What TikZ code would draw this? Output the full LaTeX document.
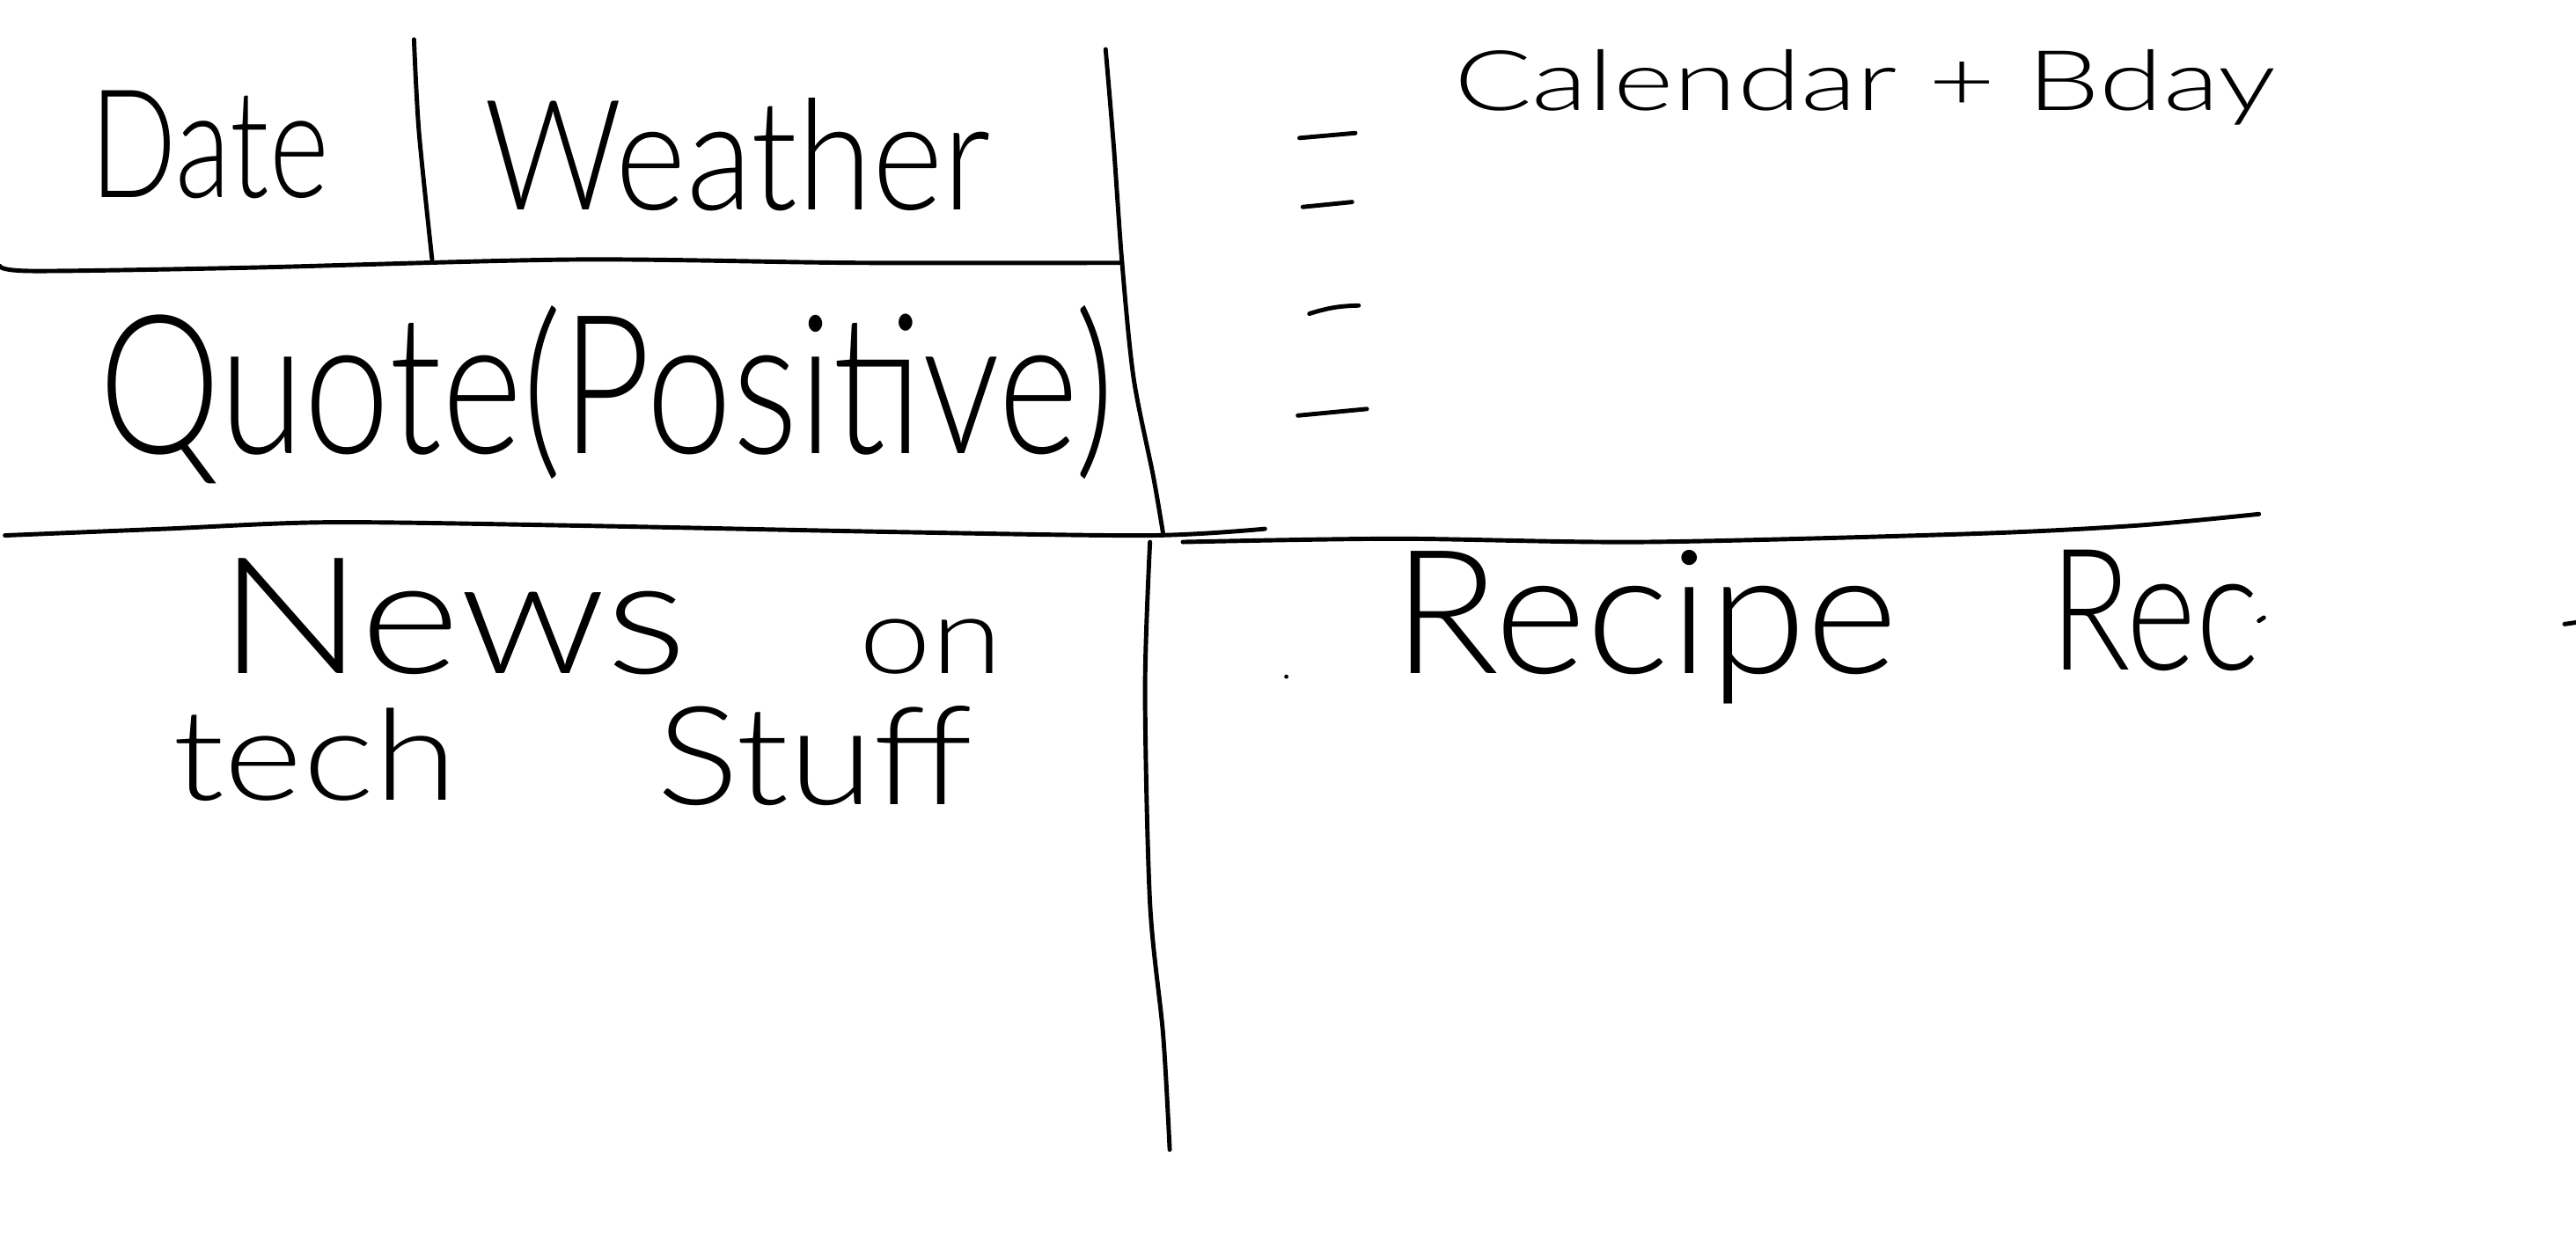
\documentclass[tikz,border=0pt]{standalone}
\usepackage{fontspec}
\setmainfont{Lato Light}
\usepackage{graphicx}
\newcommand{\skt}[3]{\resizebox{#1mm}{#2mm}{#3}}
\begin{document}
\begin{tikzpicture}[x=0.01cm,y=-0.01cm,
  pen/.style={line width=0.75pt, line cap=round, line join=round},
  word/.style={anchor=base west, inner sep=0pt, outer sep=0pt}]
\useasboundingbox[fill=white] (0,0) rectangle (1568,753);
% ---- lines ----
\draw[pen] plot[smooth] coordinates {(0,162) (20,165) (150,163) (350,158) (520,160) (683,160)};
\draw[pen] plot[smooth] coordinates {(252,24) (255,80) (263,158)};
\draw[pen] plot[smooth] coordinates {(673,30) (678,90) (683,160) (690,230) (702,290) (708,325)};
\draw[pen] plot[smooth] coordinates {(3,326) (100,322) (200,318) (350,320) (550,324) (700,326) (770,322)};
\draw[pen] plot[smooth] coordinates {(700,330) (697,420) (700,550) (708,630) (712,700)};
\draw[pen] plot[smooth] coordinates {(720,330) (850,328) (1000,330) (1200,325) (1300,320) (1375,313)};
% dashes
\draw[pen] (791,84) -- (825,81);
\draw[pen] (793,126) -- (823,123);
\draw[pen] (797,191) to[bend left=8] (827,186);
\draw[pen] (790,253) -- (832,249);
% stray marks
\fill (783,412) circle (1.3);
\draw[pen] (1375,378) -- (1378,376);
\draw[pen] (1561,380) -- (1568,379);
% ---- texts ----
\node[word] (date) at (55,120) {\skt{14.5}{6.5}{Date}};
\node[word] (weather) at (295,128) {\skt{30.8}{6.8}{Weather}};
\node[word] (cal) at (885,67) {\skt{50}{3.7}{Calendar + Bday}};
\node[word] (quote) at (60,276) {\skt{61.8}{9.0}{Quote(Positive)}};
\node[word] (news) at (133,410) {\skt{28.5}{7.0}{News}};
\node[word] (on) at (523,410) {\skt{8.7}{3.3}{on}};
\node[word] (tech) at (105,487) {\skt{17.3}{5.6}{tech}};
\node[word] (stuff) at (400,490) {\skt{19.2}{6.0}{Stuff}};
\node[word] (recipe) at (848,410) {\skt{30.7}{7.5}{Recipe}};
\node[word] (rec) at (1248,408) {\skt{12.7}{7.3}{Rec}};
\end{tikzpicture}
\end{document}
